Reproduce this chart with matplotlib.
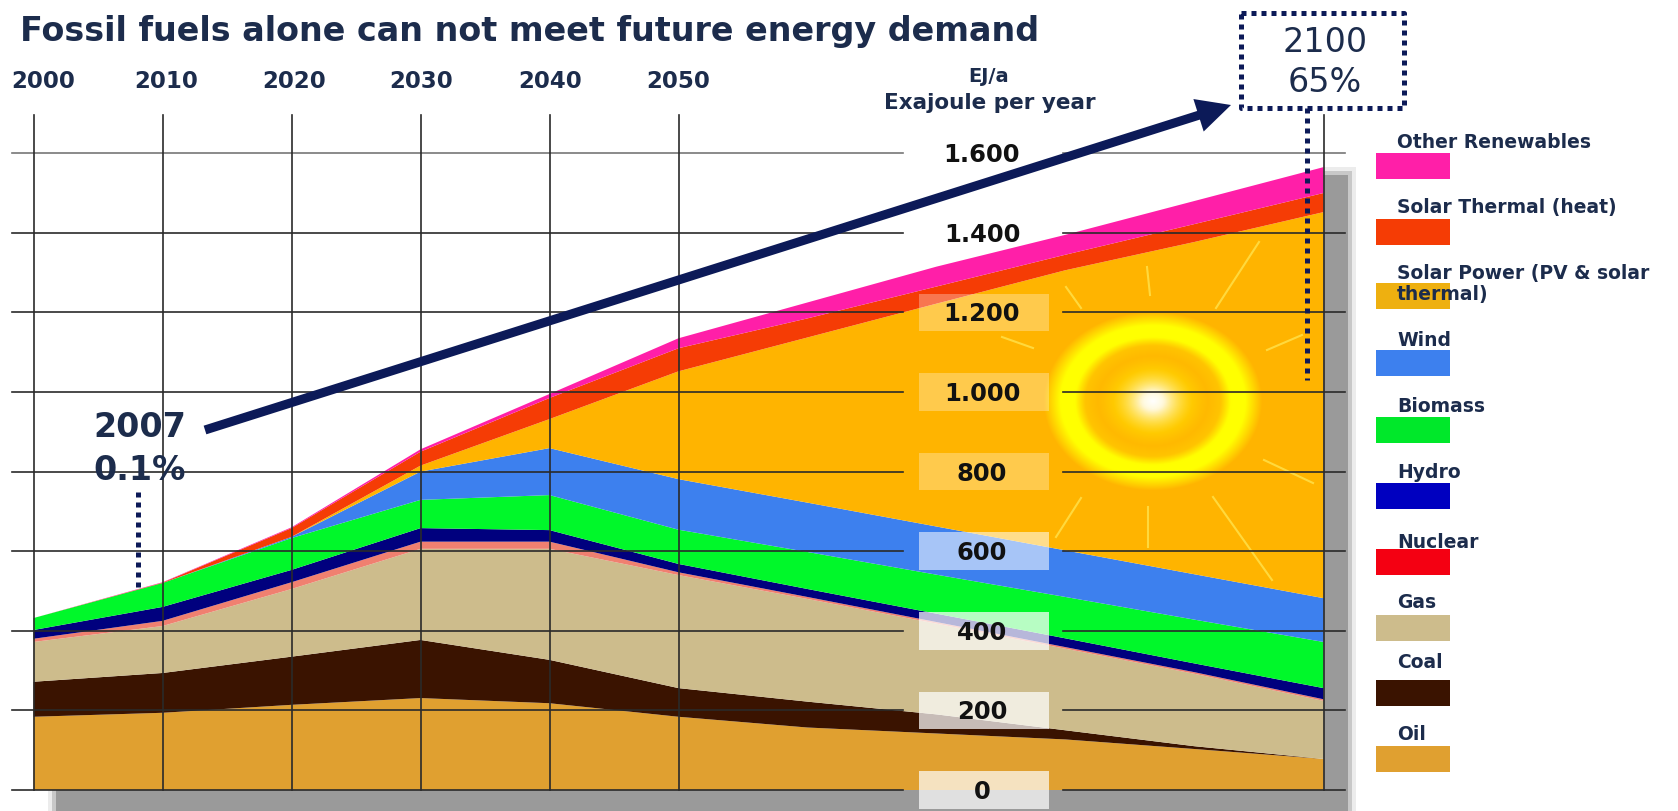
# -*- coding: utf-8 -*-

import numpy as np
import matplotlib
matplotlib.use("Agg")
import matplotlib.pyplot as plt
from matplotlib.patches import Rectangle

W, H = 1678, 811

years = [2000, 2010, 2020, 2030, 2040, 2050, 2060, 2070, 2080, 2090, 2100]
oil = [184, 194, 214, 231, 218, 184, 157, 142, 127, 103, 78]
coal = [88, 100, 121, 146, 109, 72, 65, 48, 23, 7, 0]
gas = [100, 118, 170, 229, 279, 284, 258, 228, 205, 182, 146]
nuclear = [8, 13, 17, 18, 18, 7, 5, 4, 4, 4, 4]
hydro = [22, 35, 31, 34, 29, 21, 20, 21, 22, 22, 28]
biomass = [30, 60, 80, 71, 88, 86, 93, 98, 104, 110, 116]
wind = [0, 0, 3, 71, 118, 127, 124, 121, 117, 114, 110]
solar_power = [0, 0, 0, 15, 73, 271, 415, 560, 704, 835, 970]
solar_thermal = [0, 1, 22, 35, 53, 58, 48, 43, 39, 45, 48]
other = [0, 1, 2, 6, 10, 25, 40, 50, 50, 58, 65]

area_colors = ["#e0a030", "#3a1300", "#cdbc8c", "#f08070", "#00007e",
               "#00f82a", "#3d80ee", "#ffb400", "#f53c05", "#ff1fa8"]

year_ticks = [2000, 2010, 2020, 2030, 2040, 2050]
year_tick_labels = ["2000", "2010", "2020", "2030", "2040", "2050"]
value_ticks = [0, 200, 400, 600, 800, 1000, 1200, 1400, 1600]
value_labels = ["0", "200", "400", "600", "800", "1.000", "1.200", "1.400", "1.600"]
patch_alpha = [0.7, 0.72, 0.72, 0.55, 0.3, 0.3, 0.3, 0, 0]

legend_names = ["Other Renewables", "Solar Thermal (heat)", "Solar Power (PV & solar\nthermal)",
                "Wind", "Biomass", "Hydro", "Nuclear", "Gas", "Coal", "Oil"]
legend_colors = ["#ff1fa8", "#f53c05", "#eeb010", "#3d80ee", "#00e82a",
                 "#0000c0", "#f40012", "#cdbc8c", "#3a1300", "#e0a030"]
legend_swatch_top = [153, 219, 283, 350, 417, 483, 549, 615, 680, 746]
legend_text_y = [142, 208, 284, 341, 407, 473, 543, 602, 663, 734]

NAVY = "#0c1a58"
TEXT = "#1c2c4c"
FONT = "DejaVu Sans"


# pixel position of the source picture -> axes fraction
def px(x, y):
    return x / W, 1 - y / H


def year_at(x):
    return 2000 + (x - 33.5) / 12.9


def value_at(y):
    return (790 - y) / 0.398


fig = plt.figure(figsize=(W / 100, H / 100), dpi=100)
ax = fig.add_axes([0, 0, 1, 1])
ax.axis("off")

# shadow behind the chart, stepped for a soft edge
for grow, tone in [(8, "#ececec"), (4, "#c8c8c8"), (0, "#9a9a9a")]:
    ax.fill([px(1323, 0)[0], px(1348 + grow, 0)[0], px(1348 + grow, 0)[0], px(1323, 0)[0]],
            [px(0, 175 - grow)[1], px(0, 175 - grow)[1], 0, 0],
            color=tone, transform=ax.transAxes, lw=0, zorder=1)
    ax.fill([px(56 - grow, 0)[0], px(1348, 0)[0], px(1348, 0)[0], px(56 - grow, 0)[0]],
            [px(0, 790)[1], px(0, 790)[1], 0, 0],
            color=tone, transform=ax.transAxes, lw=0, zorder=1)

ax.stackplot(years, oil, coal, gas, nuclear, hydro, biomass, wind, solar_power,
             solar_thermal, other, colors=area_colors, linewidth=0, zorder=2)

# sun
xx, yy = np.meshgrid(np.arange(1030, 1275), np.arange(300, 505))
r = np.sqrt(((xx - 1152) / 99.0) ** 2 + ((yy - 401) / 81.0) ** 2)
sun = np.zeros(r.shape + (4,))
sun[..., 0] = 1
sun[..., 1] = np.interp(r, [0, 0.5, 0.8], [1, 0.9, 1])
sun[..., 2] = np.interp(r, [0, 0.12, 0.4], [1, 0.85, 0])
sun[..., 3] = np.interp(r, [0, 0.1, 0.55, 0.68, 0.78, 0.93, 1.1], [1, 1, 0.1, 0.25, 1, 1, 0])
ax.imshow(sun, extent=[year_at(1030), year_at(1275), value_at(505), value_at(300)],
          aspect="auto", origin="upper", zorder=3, interpolation="bilinear")

rays = [((1066, 287), (1081, 308)), ((1147, 267), (1150, 295)), ((1259, 242), (1216, 308)),
        ((1002, 337), (1033, 348)), ((1302, 335), (1267, 350)), ((1081, 498), (1056, 537)),
        ((1148, 507), (1148, 547)), ((1213, 497), (1272, 580)), ((1264, 460), (1313, 483))]
for a, b in rays:
    ax.plot([year_at(a[0]), year_at(b[0])], [value_at(a[1]), value_at(b[1])],
            color="#ffe34d", lw=1.5, alpha=0.8, zorder=3)

# grid, with a gap for the value labels
for v, lab, a in zip(value_ticks, value_labels, patch_alpha):
    tone = "#777777" if v == 1600 else "#2a2a2a"
    ax.plot([year_at(12), year_at(903)], [v, v], color=tone, lw=1.2, zorder=4)
    ax.plot([year_at(1063), year_at(1345)], [v, v], color=tone, lw=1.2, zorder=4)
    if a > 0:
        ax.add_patch(Rectangle((year_at(919), v - 47), 130 / 12.9, 94, color="white",
                               alpha=a, lw=0, zorder=5))
    ax.text(982 / W, 1 - (790 - v * 0.398 + 2) / H, lab, transform=ax.transAxes, ha="center",
            va="center", fontsize=17.5, fontweight="bold", color="#111111", family=FONT, zorder=6)

for y in year_ticks + [2100]:
    ax.plot([y, y], [0, value_at(115)], color="#2a2a2a", lw=1.2, zorder=4)

ax.set_xlim(year_at(0), year_at(W))
ax.set_ylim(value_at(H), value_at(0))

# year labels
for x, lab in zip([43, 166, 294, 421, 550, 678], year_tick_labels):
    ax.text(*px(x, 81), lab, transform=ax.transAxes, ha="center", va="center", fontsize=16.5,
            fontweight="bold", color=TEXT, family=FONT, zorder=6)

ax.text(*px(20, 31), "Fossil fuels alone can not meet future energy demand", transform=ax.transAxes,
        ha="left", va="center", fontsize=24, fontweight="bold", color=TEXT, family=FONT, zorder=6)
ax.text(*px(989, 77), "EJ/a", transform=ax.transAxes, ha="center", va="center", fontsize=14,
        fontweight="bold", color=TEXT, family=FONT)
ax.text(*px(990, 103), "Exajoule per year", transform=ax.transAxes, ha="center", va="center",
        fontsize=15.5, fontweight="bold", color=TEXT, family=FONT)

# growth arrow
ax.annotate("", xy=px(1231, 105), xytext=px(205, 430), xycoords="axes fraction",
            textcoords="axes fraction", zorder=7,
            arrowprops=dict(arrowstyle="-|>,head_length=1.4,head_width=0.7", color=NAVY, lw=6.5,
                            shrinkA=0, shrinkB=0, capstyle="butt", joinstyle="miter"))

# 2007 and 2100 callouts
ax.text(*px(140, 428), "2007", transform=ax.transAxes, ha="center", va="center", fontsize=24,
        fontweight="bold", color=TEXT, family=FONT, zorder=7)
ax.text(*px(140, 470), "0.1%", transform=ax.transAxes, ha="center", va="center", fontsize=24,
        fontweight="bold", color=TEXT, family=FONT, zorder=7)
ax.text(*px(1325, 43), "2100", transform=ax.transAxes, ha="center", va="center", fontsize=24,
        color=TEXT, family=FONT, zorder=7)
ax.text(*px(1325, 83), "65%", transform=ax.transAxes, ha="center", va="center", fontsize=24,
        color=TEXT, family=FONT, zorder=7)

dots = (0, (1, 1))
box_x = [1241, 1404, 1404, 1241, 1241]
box_y = [13, 13, 108, 108, 13]
ax.plot([x / W for x in box_x], [1 - y / H for y in box_y], transform=ax.transAxes, color=NAVY,
        lw=3.6, ls=dots, zorder=7)
ax.plot([1307 / W, 1307 / W], [1 - 108 / H, 1 - 380 / H], transform=ax.transAxes, color=NAVY,
        lw=3.6, ls=dots, zorder=7)
ax.plot([138 / W, 138 / W], [1 - 492 / H, 1 - 590 / H], transform=ax.transAxes, color=NAVY,
        lw=3.6, ls=dots, zorder=7)

# legend
for name, col, top, ty in zip(legend_names, legend_colors, legend_swatch_top, legend_text_y):
    ax.add_patch(Rectangle(px(1376, top + 26), 74 / W, 26 / H, transform=ax.transAxes, color=col,
                           lw=0, zorder=5))
    ax.text(*px(1397, ty), name, transform=ax.transAxes, ha="left", va="center", fontsize=13.5,
            fontweight="bold", color=TEXT, family=FONT, zorder=6, linespacing=1.1)

fig.savefig("out.png", dpi=100)
